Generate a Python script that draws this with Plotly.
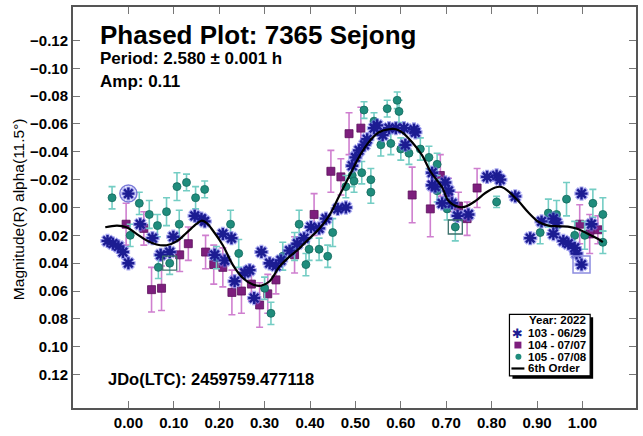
import plotly.graph_objects as go

# ---- session 103 (2022-06-29) ----
s103_phase = [-0.046, -0.034, -0.022, -0.012, 0.000, 0.000, 0.026, 0.053, 0.071, 0.091,
              0.099, 0.146, 0.161, 0.168, 0.190, 0.208, 0.212, 0.227, 0.234, 0.256,
              0.267, 0.277, 0.293, 0.311, 0.325, 0.336, 0.355, 0.372, 0.387, 0.402,
              0.420, 0.435, 0.461, 0.479, 0.493, 0.500, 0.508, 0.520, 0.526, 0.541,
              0.548, 0.560, 0.574, 0.589, 0.607, 0.610, 0.629, 0.632, 0.669, 0.669,
              0.676, 0.691, 0.698, 0.705, 0.713, 0.725, 0.749, 0.790, 0.811, 0.819,
              0.852, 0.885, 0.910, 0.936, 0.943, 0.936, 0.958, 0.969, 0.983, 0.987,
              0.998, 0.998, 1.020]
s103_mag = [0.024, 0.026, 0.028, 0.032, 0.040, -0.010, 0.012, 0.022, 0.034, 0.032,
            0.021, 0.006, 0.008, 0.010, 0.034, 0.019, 0.038, 0.022, 0.053, 0.047,
            0.045, 0.065, 0.032, 0.040, 0.042, 0.038, 0.031, 0.026, 0.022, 0.014,
            0.015, 0.008, 0.001, 0.000, -0.030, -0.036, -0.041, -0.045, -0.049, -0.057,
            -0.059, -0.052, -0.057, -0.057, -0.057, -0.045, -0.056, -0.054, -0.025, -0.016,
            -0.015, -0.003, -0.018, -0.012, -0.003, 0.006, 0.005, -0.022, -0.023, -0.020,
            -0.008, 0.022, 0.010, 0.008, 0.011, 0.019, 0.024, 0.026, 0.029, 0.033,
            0.041, -0.010, 0.012]
s103_circled = [5]
s103_boxed = [70]

# ---- session 104 (2022-07-07) ----
s104_phase = [-0.005, 0.034, 0.051, 0.073, 0.113, 0.132, 0.170, 0.188, 0.208, 0.228,
              0.249, 0.271, 0.289, 0.307, 0.325, 0.366, 0.409, 0.446, 0.468, 0.486,
              0.512, 0.625, 0.665, 0.687, 0.705, 0.727, 0.746, 0.768, 0.994, 1.016, 1.034]
s104_mag = [0.012, 0.015, 0.059, 0.058, 0.034, 0.026, 0.032, 0.041, 0.043, 0.061,
            0.060, 0.055, 0.070, 0.062, 0.052, 0.034, 0.005, -0.026, -0.022, -0.053,
            -0.057, -0.009, 0.001, -0.023, -0.009, -0.001, 0.008, -0.014, 0.012, 0.019, 0.016]
s104_err = [0.015, 0.012, 0.016, 0.016, 0.012, 0.012, 0.012, 0.014, 0.014, 0.016,
            0.016, 0.012, 0.016, 0.014, 0.010, 0.013, 0.015, 0.015, 0.013, 0.015,
            0.015, 0.020, 0.020, 0.015, 0.012, 0.010, 0.012, 0.014, 0.014, 0.014, 0.010]

# ---- session 105 (2022-07-08) ----
s105_phase = [-0.036, 0.004, 0.024, 0.046, 0.064, 0.066, 0.084, 0.091, 0.107, 0.112,
              0.128, 0.148, 0.168, 0.194, 0.225, 0.243, 0.300, 0.314, 0.340, 0.366,
              0.376, 0.391, 0.398, 0.420, 0.439, 0.450, 0.479, 0.493, 0.497, 0.514,
              0.519, 0.534, 0.534, 0.541, 0.556, 0.570, 0.578, 0.592, 0.596, 0.600,
              0.618, 0.643, 0.662, 0.680, 0.680, 0.702, 0.720, 0.811, 0.907, 0.925,
              0.943, 0.965, 0.983, 1.005, 1.023, 1.045, 1.045]
s105_mag = [-0.007, 0.020, -0.003, 0.005, 0.013, 0.043, 0.003, 0.040, -0.015, 0.012,
            -0.018, -0.007, -0.013, 0.036, 0.012, 0.033, 0.058, 0.076, 0.035, 0.028,
            0.012, 0.041, 0.030, 0.030, 0.035, 0.018, -0.015, -0.023, -0.019, -0.025,
            -0.070, -0.020, -0.011, -0.062, -0.045, -0.071, -0.046, -0.077, -0.069, -0.042,
            -0.039, -0.042, -0.036, -0.031, -0.012, 0.001, 0.014, -0.004, 0.018, 0.004,
            0.005, -0.006, 0.020, 0.020, -0.003, 0.005, 0.025]
s105_err = [0.008, 0.008, 0.008, 0.010, 0.008, 0.008, 0.010, 0.008, 0.010, 0.010,
            0.006, 0.008, 0.006, 0.008, 0.010, 0.010, 0.008, 0.008, 0.010, 0.010,
            0.010, 0.008, 0.008, 0.008, 0.008, 0.010, 0.008, 0.008, 0.008, 0.008,
            0.006, 0.008, 0.008, 0.006, 0.008, 0.006, 0.008, 0.006, 0.008, 0.008,
            0.008, 0.008, 0.008, 0.008, 0.008, 0.008, 0.010, 0.004, 0.008, 0.010,
            0.010, 0.012, 0.010, 0.010, 0.010, 0.012, 0.008]
s105_boxed = [7, 46]

# ---- 6th order Fourier fit ----
fit_phase = [-0.051, -0.025, -0.004, 0.018, 0.040, 0.062, 0.084, 0.106, 0.128, 0.150,
             0.161, 0.172, 0.186, 0.208, 0.230, 0.252, 0.274, 0.292, 0.311, 0.333,
             0.355, 0.376, 0.398, 0.420, 0.442, 0.464, 0.486, 0.508, 0.529, 0.551,
             0.574, 0.589, 0.603, 0.625, 0.647, 0.666, 0.691, 0.705, 0.727, 0.742,
             0.764, 0.786, 0.808, 0.822, 0.837, 0.859, 0.881, 0.903, 0.925, 0.947,
             0.968, 0.990, 1.012, 1.034, 1.045]
fit_mag = [0.0142, 0.0130, 0.0142, 0.0189, 0.0236, 0.0266, 0.0271, 0.0243, 0.0182, 0.0118,
           0.0095, 0.0111, 0.0165, 0.0271, 0.0412, 0.0506, 0.0553, 0.0562, 0.0530, 0.0424,
           0.0353, 0.0295, 0.0224, 0.0154, 0.0060, -0.0081, -0.0222, -0.0363, -0.0468, -0.0539,
           -0.0562, -0.0562, -0.0539, -0.0468, -0.0374, -0.0255, -0.0145, -0.0046, -0.0004, -0.0006,
           -0.0046, -0.0104, -0.0144, -0.0147, -0.0116, -0.0046, 0.0036, 0.0102, 0.0130, 0.0135,
           0.0137, 0.0154, 0.0189, 0.0224, 0.0248]

x_ticks = [0.0, 0.1, 0.2, 0.3, 0.4, 0.5, 0.6, 0.7, 0.8, 0.9, 1.0]
y_ticks = [-0.12, -0.10, -0.08, -0.06, -0.04, -0.02, 0.00, 0.02, 0.04, 0.06, 0.08, 0.10, 0.12]

legend_title = "Year: 2022"
legend_labels = ["103 - 06/29", "104 - 07/07", "105 - 07/08", "6th Order"]

FONT = "Liberation Sans, Arial, sans-serif"
NAVY = "#1c1c92"
HALO = "rgba(120,120,230,0.65)"
PURPLE = "#7d1e7d"
PINK = "#cf7fcf"
TEAL = "#1f8c7c"
TEAL_LT = "#74cdc4"

fig = go.Figure()

# session 104: purple squares with long error bars
fig.add_trace(go.Scatter(
    x=s104_phase, y=s104_mag, mode="markers",
    error_y=dict(type="data", array=s104_err, color=PINK, thickness=1.6, width=3.5),
    marker=dict(symbol="square", size=8, color=PURPLE, line=dict(color="#5a105a", width=0.8)),
    showlegend=False))

# session 105: teal circles
fig.add_trace(go.Scatter(
    x=s105_phase, y=s105_mag, mode="markers",
    error_y=dict(type="data", array=s105_err, color=TEAL_LT, thickness=1.6, width=3.5),
    marker=dict(symbol="circle", size=8, color=TEAL, line=dict(color="#156a5e", width=0.8)),
    showlegend=False))

# session 103: navy asterisks with a soft halo (open symbols stroke with marker.color)
fig.add_trace(go.Scatter(
    x=s103_phase, y=s103_mag, mode="markers",
    marker=dict(symbol="asterisk-open", size=12, color=HALO, line=dict(width=4)),
    showlegend=False, hoverinfo="skip"))
fig.add_trace(go.Scatter(
    x=s103_phase, y=s103_mag, mode="markers",
    marker=dict(symbol="asterisk-open", size=10, color=NAVY, line=dict(width=2.4)),
    showlegend=False))

# flagged observations
fig.add_trace(go.Scatter(
    x=[s103_phase[i] for i in s103_circled], y=[s103_mag[i] for i in s103_circled],
    mode="markers", marker=dict(symbol="circle-open", size=17, color="#7a7ad8", line=dict(width=1.5)),
    showlegend=False, hoverinfo="skip"))
fig.add_trace(go.Scatter(
    x=[s103_phase[i] for i in s103_boxed], y=[s103_mag[i] for i in s103_boxed],
    mode="markers", marker=dict(symbol="square-open", size=17, color="#8c8ce0", line=dict(width=1.5)),
    showlegend=False, hoverinfo="skip"))
fig.add_trace(go.Scatter(
    x=[s105_phase[i] for i in s105_boxed], y=[s105_mag[i] for i in s105_boxed],
    mode="markers", marker=dict(symbol="square-open", size=14, color="#3a6f6a", line=dict(width=1.3)),
    showlegend=False, hoverinfo="skip"))

# Fourier fit curve
fig.add_trace(go.Scatter(
    x=fit_phase, y=fit_mag, mode="lines",
    line=dict(color="black", width=2.2, shape="spline", smoothing=1.0),
    showlegend=False, hoverinfo="skip"))

axis_common = dict(
    showgrid=False, zeroline=False, showline=True, linecolor="#555555", linewidth=2,
    mirror="allticks", ticks="inside", ticklen=7, tickwidth=1, tickcolor="#777777",
    tickformat=".2f", tickfont=dict(family=FONT, size=15, color="black", weight="bold"),
)
fig.update_xaxes(range=[-0.122, 1.118], tickvals=x_ticks, **axis_common)
fig.update_yaxes(range=[0.144, -0.144], tickvals=y_ticks, **axis_common)

# --- hand-drawn legend box (paper coords; plot area spans 565 x 411 px) ---
def px(x):
    return (x - 73) / 565.0

def py(y):
    return (416 - y) / 411.0

shapes = [
    dict(type="rect", xref="paper", yref="paper", x0=px(514), x1=px(595), y0=py(386), y1=py(323),
         fillcolor="black", line=dict(width=0), layer="above"),
    dict(type="rect", xref="paper", yref="paper", x0=px(511), x1=px(592), y0=py(383), y1=py(320),
         fillcolor="white", line=dict(color="black", width=1.2), layer="above"),
    dict(type="rect", xref="paper", yref="paper", x0=px(516), x1=px(523), y0=py(355), y1=py(348),
         fillcolor=PURPLE, line=dict(width=0), layer="above"),
    dict(type="circle", xref="paper", yref="paper", x0=px(517), x1=px(523), y0=py(366.5), y1=py(360.5),
         fillcolor=TEAL, line=dict(width=0), layer="above"),
    dict(type="line", xref="paper", yref="paper", x0=px(513), x1=px(526), y0=py(375.5), y1=py(375.5),
         line=dict(color="black", width=2.2), layer="above"),
]

annotations = [
    dict(text="<b>Phased Plot: 7365 Sejong</b>", x=px(98), y=py(34), xanchor="left", yanchor="middle",
         font=dict(family=FONT, size=26, color="black")),
    dict(text="<b>Period: 2.580 ± 0.001 h</b>", x=px(98), y=py(58), xanchor="left", yanchor="middle",
         font=dict(family=FONT, size=17, color="black")),
    dict(text="<b>Amp: 0.11</b>", x=px(98), y=py(81), xanchor="left", yanchor="middle",
         font=dict(family=FONT, size=17, color="black")),
    dict(text="<b>JDo(LTC): 2459759.477118</b>", x=px(106), y=py(386), xanchor="left", yanchor="middle",
         font=dict(family=FONT, size=16.5, color="black")),
    dict(text="Magnitude(R) alpha(11.5°)", x=px(19), y=py(212), xanchor="center", yanchor="middle",
         textangle=-90, font=dict(family=FONT, size=15.5, color="black")),
    dict(text="<b>%s</b>" % legend_title, x=px(590), y=py(326), xanchor="right", yanchor="middle",
         font=dict(family=FONT, size=11.5, color="black")),
    dict(text="✱", x=px(519.5), y=py(339.5), xanchor="center", yanchor="middle",
         font=dict(family="DejaVu Sans", size=13, color=NAVY)),
]
for label, ypix in zip(legend_labels, [339.5, 351.5, 363.5, 375.5]):
    annotations.append(dict(text="<b>%s</b>" % label, x=px(528), y=py(ypix), xanchor="left",
                            yanchor="middle", font=dict(family=FONT, size=11.5, color="black")))
for a in annotations:
    a.update(xref="paper", yref="paper", showarrow=False)

fig.update_layout(
    width=643, height=436,
    margin=dict(l=73, r=5, t=5, b=20),
    paper_bgcolor="white", plot_bgcolor="white",
    showlegend=False,
    shapes=shapes, annotations=annotations,
    font=dict(family=FONT, color="black"),
)

fig.write_html("out.html")
